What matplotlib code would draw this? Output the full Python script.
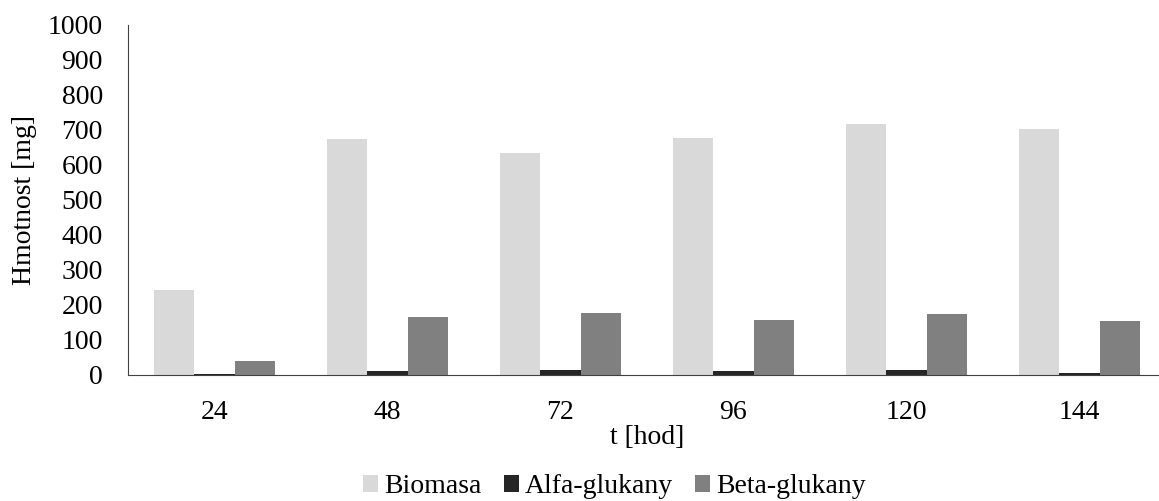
import numpy as np
import matplotlib.pyplot as plt

plt.rcParams['font.family'] = ['Liberation Serif', 'DejaVu Serif']

# data
hours = ['24', '48', '72', '96', '120', '144']
biomasa = [243, 674, 634, 677, 717, 703]
alfa = [3, 12, 15, 10, 13, 6]
beta = [40, 166, 177, 157, 174, 154]


def main():
    fig = plt.figure(figsize=(11.59, 5.01), dpi=100)
    # plot area runs slightly past the right edge, like in the original
    ax = fig.add_axes([0.1104, 0.2515, 0.8956, 0.6986])

    x = np.arange(len(hours))
    w = 0.233
    ax.bar(x - w, biomasa, w, color='#d9d9d9', label='Biomasa')
    ax.bar(x, alfa, w, color='#262626', label='Alfa-glukany')
    ax.bar(x + w, beta, w, color='#808080', label='Beta-glukany')

    ax.set_xlim(-0.5, len(hours) - 0.5)
    ax.set_ylim(0, 1000)
    ax.set_yticks(range(0, 1001, 100))
    ax.set_xticks(x)
    ax.set_xticklabels(hours)
    ax.tick_params(axis='both', length=0, labelsize=20)
    ax.tick_params(axis='x', pad=18)
    ax.tick_params(axis='y', pad=18)

    for s in ['top', 'right']:
        ax.spines[s].set_visible(False)
    ax.spines['left'].set_color('#404040')
    ax.spines['bottom'].set_color('#404040')

    ax.set_xlabel('t [hod]', fontsize=20, labelpad=0)
    ax.set_ylabel('Hmotnost [mg]', fontsize=20, labelpad=8)

    fig.legend(loc='center', bbox_to_anchor=(0.53, 0.028), ncol=3,
               frameon=False, fontsize=20, handlelength=0.54, handleheight=0.54,
               handletextpad=0.22, columnspacing=0.8)

    fig.savefig('out.png', dpi=100)


if __name__ == '__main__':
    main()
